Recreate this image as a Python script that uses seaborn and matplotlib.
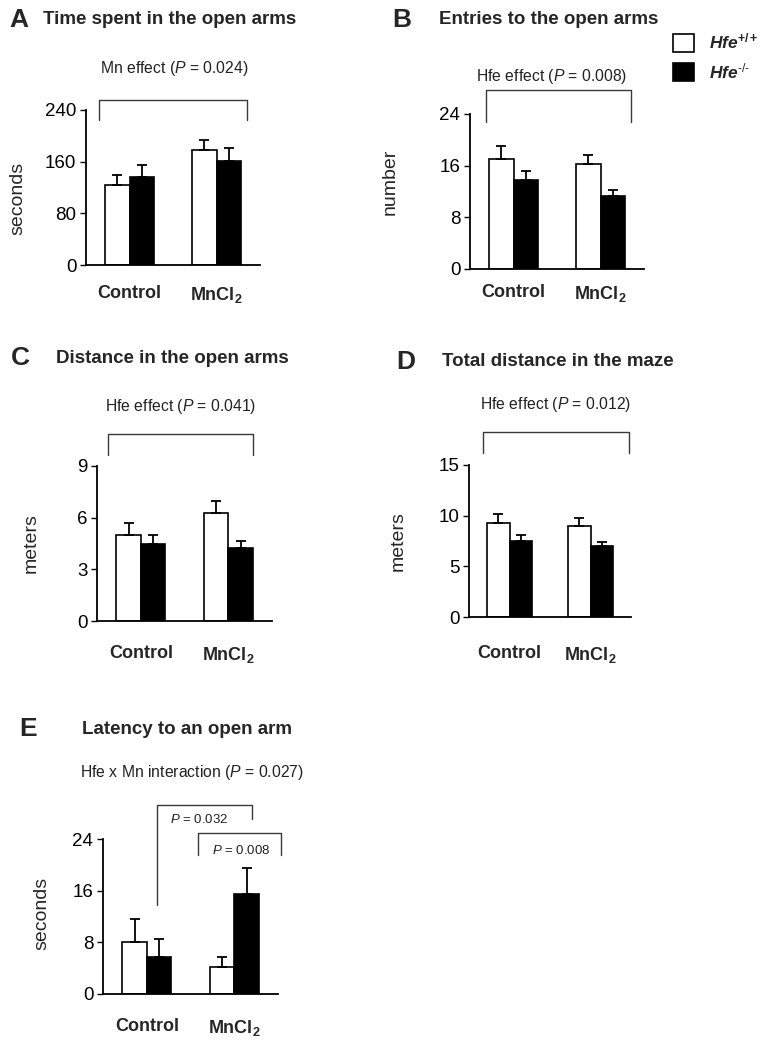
import pandas as pd
import seaborn as sns
import matplotlib.pyplot as plt
from matplotlib.transforms import blended_transform_factory

# data (mean and upper SEM)
groups = ["Control", "MnCl2"]
genotypes = ["Hfe+/+", "Hfe-/-"]

time_wt = [124, 178]
time_ko = [137, 161]
time_wt_err = [16, 15]
time_ko_err = [18, 20]

entries_wt = [17.1, 16.3]
entries_ko = [13.8, 11.3]
entries_wt_err = [2.0, 1.4]
entries_ko_err = [1.3, 0.9]

dist_wt = [5.0, 6.28]
dist_ko = [4.49, 4.25]
dist_wt_err = [0.7, 0.68]
dist_ko_err = [0.5, 0.37]

total_wt = [9.24, 8.94]
total_ko = [7.53, 6.97]
total_wt_err = [0.89, 0.79]
total_ko_err = [0.56, 0.40]

lat_wt = [8.05, 4.13]
lat_ko = [5.77, 15.5]
lat_wt_err = [3.55, 1.55]
lat_ko_err = [2.69, 3.95]

sns.set_theme(style="white")
plt.rcParams["font.family"] = ["Liberation Sans", "DejaVu Sans"]
plt.rcParams["mathtext.fontset"] = "custom"
plt.rcParams["mathtext.rm"] = "Liberation Sans"
plt.rcParams["mathtext.it"] = "Liberation Sans:italic"
plt.rcParams["mathtext.bf"] = "Liberation Sans:bold"
plt.rcParams["mathtext.bfit"] = "Liberation Sans:italic:bold"

W, H = 768, 1046
fig = plt.figure(figsize=(W / 100, H / 100), dpi=100)

TICK_FS = 13.5
NOTE_FS = 11.3


def make_df(wt, ko):
    rows = []
    for g, v in zip(groups, wt):
        rows.append({"group": g, "genotype": genotypes[0], "value": v})
    for g, v in zip(groups, ko):
        rows.append({"group": g, "genotype": genotypes[1], "value": v})
    return pd.DataFrame(rows)


def panel(px, wt, ko, wt_err, ko_err, yticks, ylabel, ylab_xy, xpad=14):
    x0, x1, y0, y1 = px  # pixel box: left, right, top, bottom
    ax = fig.add_axes([x0 / W, 1 - y1 / H, (x1 - x0) / W, (y1 - y0) / H])
    df = make_df(wt, ko)
    sns.barplot(data=df, x="group", y="value", hue="genotype",
                palette=["white", "black"], edgecolor="black", linewidth=1.2,
                width=0.56, errorbar=None, ax=ax)
    for cont, errs in zip(ax.containers, [wt_err, ko_err]):
        for bar, e in zip(cont, errs):
            ax.errorbar(bar.get_x() + bar.get_width() / 2, bar.get_height(),
                        yerr=[[0], [e]], color="black", elinewidth=1.3,
                        capsize=3.5, capthick=1.3, zorder=1)
    ax.set_xlim(-0.5, 1.5)
    ax.set_ylim(0, yticks[-1])
    ax.set_yticks(yticks)
    ax.set_yticklabels([str(t) for t in yticks], fontsize=TICK_FS)
    ax.set_xticks([0, 1])
    ax.set_xticklabels(["Control", "MnCl$_{\\mathbf{2}}$"], fontsize=13,
                       fontweight="bold")
    ax.tick_params(axis="x", length=0, pad=xpad)
    ax.tick_params(axis="y", length=4, width=1, direction="out", left=True,
                   pad=3, colors="black")
    for s in ["top", "right"]:
        ax.spines[s].set_visible(False)
    for s in ["left", "bottom"]:
        ax.spines[s].set_color("black")
        ax.spines[s].set_linewidth(1.3)
    ax.set_xlabel("")
    ax.set_ylabel(ylabel, fontsize=14)
    ax.yaxis.set_label_coords(*ylab_xy)
    leg = ax.get_legend()
    handles = leg.legend_handles if leg else []
    if leg:
        leg.remove()
    return ax, handles


def bracket(ax, xa, xb, top, la, lb, text=None, tx=None, ty=None,
            size=NOTE_FS):
    tr = blended_transform_factory(ax.transData, ax.transAxes)
    ax.plot([xa, xa, xb, xb], [la, top, top, lb], color="#3a3a3a", lw=1,
            transform=tr, clip_on=False)
    if text:
        ax.text(tx, ty, text, transform=tr, ha="center", va="center",
                fontsize=size, color="#222222")


def title(letter, lx, text, tx, y):
    fig.text(lx / W, 1 - y / H, letter, fontsize=19, fontweight="bold",
             ha="left", va="center")
    fig.text(tx / W, 1 - y / H, text, fontsize=13.5, fontweight="bold",
             ha="left", va="center")


# A
axA, _ = panel((86, 260, 110, 265), time_wt, time_ko, time_wt_err, time_ko_err,
               [0, 80, 160, 240], "seconds", (-0.345, 0.43), xpad=14.5)
bracket(axA, -0.345, 1.345, 1.065, 0.935, 0.935, "Mn effect ($P$ = 0.024)",
        0.517, 1.265)
title("A", 9, "Time spent in the open arms", 43, 20)

# B
axB, handles = panel((470, 644, 114, 269), entries_wt, entries_ko,
                     entries_wt_err, entries_ko_err, [0, 8, 16, 24], "number",
                     (-0.408, 0.56), xpad=10.5)
bracket(axB, -0.32, 1.355, 1.155, 0.948, 0.948, "Hfe effect ($P$ = 0.008)",
        0.437, 1.245)
title("B", 392, "Entries to the open arms", 439, 20)

# C
axC, _ = panel((97, 272, 466, 621), dist_wt, dist_ko, dist_wt_err, dist_ko_err,
               [0, 3, 6, 9], "meters", (-0.326, 0.5), xpad=17.5)
bracket(axC, -0.375, 1.284, 1.206, 1.071, 1.071, "Hfe effect ($P$ = 0.041)",
        0.455, 1.387)
title("C", 11, "Distance in the open arms", 56, 358)

# D
axD, _ = panel((469, 631, 465, 617), total_wt, total_ko, total_wt_err,
               total_ko_err, [0, 5, 10, 15], "meters", (-0.383, 0.5), xpad=20)
bracket(axD, -0.333, 1.47, 1.217, 1.079, 1.079, "Hfe effect ($P$ = 0.012)",
        0.568, 1.40)
title("D", 396, "Total distance in the maze", 442, 362)

# E
axE, _ = panel((103, 278, 839, 994), lat_wt, lat_ko, lat_wt_err, lat_ko_err,
               [0, 8, 16, 24], "seconds", (-0.303, 0.52), xpad=17.5)
trE = blended_transform_factory(axE.transData, axE.transAxes)
axE.text(0.52, 1.432, "Hfe x Mn interaction ($P$ = 0.027)", transform=trE,
         ha="center", va="center", fontsize=NOTE_FS, color="#222222")
bracket(axE, 0.114, 1.205, 1.219, 0.574, 1.129, "$P$ = 0.032", 0.6, 1.129,
        size=9.5)
bracket(axE, 0.59, 1.534, 1.039, 0.897, 0.897, "$P$ = 0.008", 1.08, 0.929,
        size=9.5)
title("E", 19, "Latency to an open arm", 82, 729)

# legend
labels = [r"$\mathbfit{Hfe}^{\mathbf{+/+}}$", r"$\mathbfit{Hfe}^{\mathbf{-/-}}$"]
labels[1] = r"$\mathbfit{Hfe}^{\text{-/-}}$"
fig.legend(handles, labels, loc="upper left",
           bbox_to_anchor=(671 / W, 1 - 30 / H), frameon=False, fontsize=12.5,
           handlelength=1.2, handleheight=1.2, handletextpad=0.9,
           labelspacing=0.55, borderaxespad=0, borderpad=0.1)

fig.savefig("out.png", dpi=100)
